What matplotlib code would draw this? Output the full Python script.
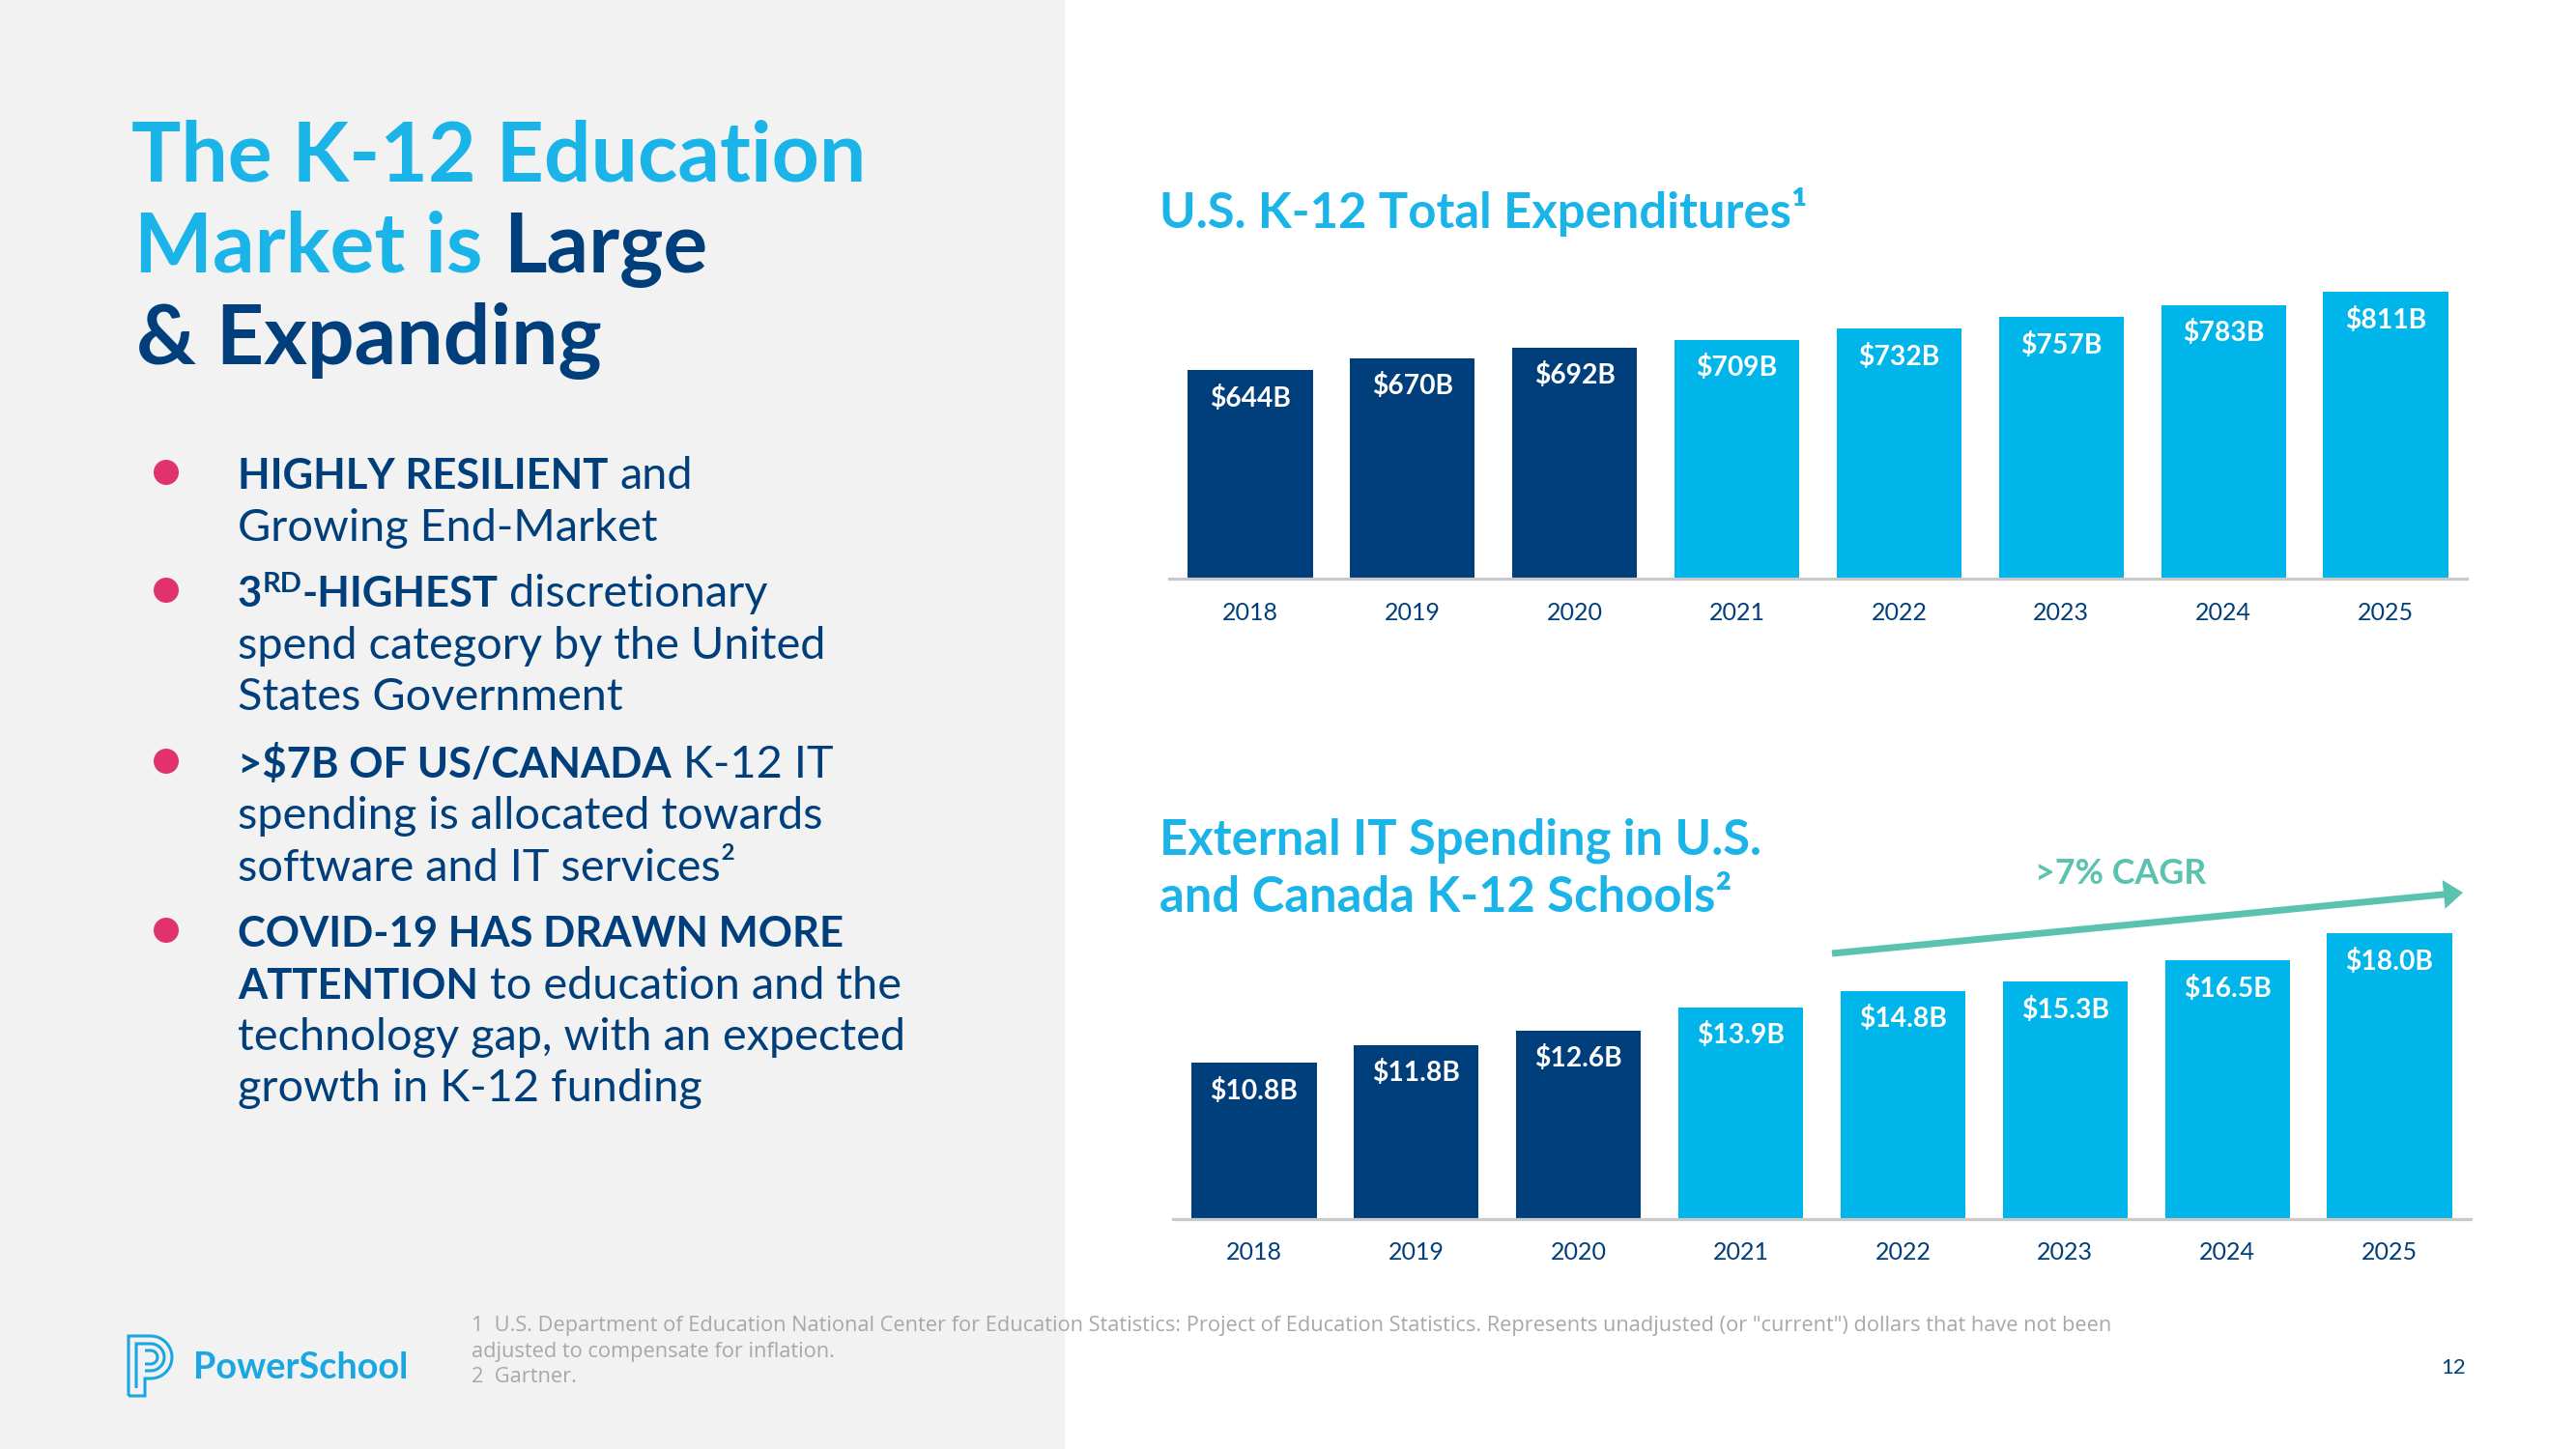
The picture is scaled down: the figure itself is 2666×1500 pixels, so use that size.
import matplotlib
matplotlib.use("Agg")
import matplotlib.pyplot as plt
from matplotlib.patches import Rectangle, Circle, FancyArrow, PathPatch
from matplotlib.path import Path
import numpy as np

# ---------------- data ----------------
years = ["2018", "2019", "2020", "2021", "2022", "2023", "2024", "2025"]
total_expenditures = [644, 670, 692, 709, 732, 757, 783, 811]
total_labels = ["$644B", "$670B", "$692B", "$709B", "$732B", "$757B", "$783B", "$811B"]
it_spending = [10.8, 11.8, 12.6, 13.9, 14.8, 15.3, 16.5, 18.0]
it_labels = ["$10.8B", "$11.8B", "$12.6B", "$13.9B", "$14.8B", "$15.3B", "$16.5B", "$18.0B"]
n_actual = 3  # first bars drawn in navy

title_lines = [
    [("The K-12 Education", "bold", "light")],
    [("Market is", "bold", "light"), (" Large", "bold", "navy")],
    [("& Expanding", "bold", "navy")],
]
bullets = [
    [[("HIGHLY RESILIENT", "bold"), (" and", "normal")],
     [("Growing End-Market", "normal")]],
    [[("3", "bold"), ("RD", "bold", "sup"), ("-HIGHEST", "bold"), (" discretionary", "normal")],
     [("spend category by the United", "normal")],
     [("States Government", "normal")]],
    [[(">$7B OF US/CANADA", "bold"), (" K-12 IT", "normal")],
     [("spending is allocated towards", "normal")],
     [("software and IT services\u00b2", "normal")]],
    [[("COVID-19 HAS DRAWN MORE", "bold")],
     [("ATTENTION", "bold"), (" to education and the", "normal")],
     [("technology gap, with an expected", "normal")],
     [("growth in K-12 funding", "normal")]],
]
footnotes = [
    "1  U.S. Department of Education National Center for Education Statistics: Project of Education Statistics. Represents unadjusted (or \"current\") dollars that have not been",
    "adjusted to compensate for inflation.",
    "2  Gartner.",
]

# ---------------- style ----------------
NAVY = "#003F7B"
LIGHT = "#00B5EA"
TITLE_BLUE = "#1BB4E8"
TEAL = "#5BC2B0"
PINK = "#E0336E"
GRAY_LINE = "#C9C9C9"
PANEL = "#F2F2F2"
FOOT = "#A8A8A8"
FONT = "Lato"
COLORS = {"navy": NAVY, "light": TITLE_BLUE}

W, H = 2666, 1500
fig = plt.figure(figsize=(W / 100, H / 100), dpi=100)
fig.patch.set_facecolor("white")
ov = fig.add_axes([0, 0, 1, 1], zorder=0)
ov.set_xlim(0, W)
ov.set_ylim(H, 0)
ov.axis("off")
ov.add_patch(Rectangle((0, 0), 1102, H, facecolor=PANEL, edgecolor="none"))
renderer = fig.canvas.get_renderer()


def width_of(t):
    return t.get_window_extent(renderer).width


def measure(txt, size, weight="normal", family=FONT):
    t = ov.text(0, 0, txt, fontsize=size, fontweight=weight, family=family)
    w = width_of(t)
    t.remove()
    return w


def fit_size(txt, target, weight="normal", family=FONT):
    return 30 * target / measure(txt, 30, weight, family)


def space_w(size, weight):
    return measure("n n", size, weight) - measure("nn", size, weight)


def draw_line(x, y, parts, size, default_color=NAVY, bold_scale=1.0):
    cx = x
    for p in parts:
        txt, weight = p[0], p[1]
        flag = p[2] if len(p) > 2 else None
        color = COLORS.get(flag, default_color)
        sup = flag == "sup"
        s = size * (bold_scale if weight == "bold" else 1.0)
        dy = size * 1.389 * 0.33 if sup else 0
        if sup:
            s = size * 0.62
        if txt.startswith(" "):
            cx += space_w(size, "normal")
            txt = txt.lstrip(" ")
        t = ov.text(cx, y - dy, txt, fontsize=s, fontweight=weight, color=color,
                    family=FONT, ha="left", va="baseline")
        cx += width_of(t)
    return cx


# ---------------- main title ----------------
ts = fit_size("The K-12 Education", 760, "bold")
for parts, (x, y) in zip(title_lines, [(136, 187), (139, 282), (141, 377)]):
    draw_line(x, y, parts, ts)

# ---------------- bullets ----------------
bs = fit_size("spending is allocated towards", 605, "normal")
line_gap = 53.5
first_baselines = [506, 628, 805, 980]
for blines, y0 in zip(bullets, first_baselines):
    ov.add_patch(Circle((172, y0 - 17), 13, facecolor=PINK, edgecolor="none"))
    for k, parts in enumerate(blines):
        draw_line(246, y0 + k * line_gap, parts, bs, bold_scale=0.93)

# ---------------- footnotes ----------------
fs = fit_size(footnotes[0], 1692, "normal", "Open Sans")
for k, line in enumerate(footnotes):
    ov.text(488, 1378 + k * 26.5, line, fontsize=fs, color=FOOT, family="Open Sans",
            ha="left", va="baseline")

# ---------------- logo ----------------
lw_logo = 2.2
LOGO = "#1AA7E1"
outer = Path([(133, 1445), (133, 1383), (156, 1383)] +
             [(156 + 22 * np.sin(a), 1405 - 22 * np.cos(a)) for a in np.linspace(0, np.pi, 20)][1:] +
             [(150, 1427), (150, 1445), (133, 1445)])
ov.add_patch(PathPatch(outer, facecolor="none", edgecolor=LOGO, lw=lw_logo))
inner = Path([(141, 1437), (141, 1391), (156, 1391)] +
             [(156 + 14 * np.sin(a), 1405 - 14 * np.cos(a)) for a in np.linspace(0, np.pi, 16)][1:] +
             [(150, 1419)])
ov.add_patch(PathPatch(inner, facecolor="none", edgecolor=LOGO, lw=lw_logo))
inner2 = Path([(150, 1398), (156, 1398)] +
              [(156 + 7 * np.sin(a), 1405 - 7 * np.cos(a)) for a in np.linspace(0, np.pi, 12)][1:] +
              [(150, 1412)])
ov.add_patch(PathPatch(inner2, facecolor="none", edgecolor=LOGO, lw=lw_logo))
ls = fit_size("PowerSchool", 222, "bold")
ov.text(200, 1427, "PowerSchool", fontsize=ls, fontweight="bold", color=LOGO,
        family=FONT, ha="left", va="baseline")

ov.text(2552, 1422, "12", fontsize=16, color=NAVY, family=FONT, ha="right", va="baseline")

# ---------------- chart titles ----------------
cts = fit_size("U.S. K-12 Total Expenditures\u00b9", 670, "bold")
ov.text(1200, 236, "U.S. K-12 Total Expenditures\u00b9", fontsize=cts, fontweight="bold",
        color=TITLE_BLUE, family=FONT, ha="left", va="baseline")
ov.text(1200, 884, "External IT Spending in U.S.", fontsize=cts, fontweight="bold",
        color=TITLE_BLUE, family=FONT, ha="left", va="baseline")
ov.text(1200, 944, "and Canada K-12 Schools\u00b2", fontsize=cts, fontweight="bold",
        color=TITLE_BLUE, family=FONT, ha="left", va="baseline")

# ---------------- bar charts ----------------
vs = fit_size("$644B", 84, "bold")
ys = fit_size("2018", 58, "normal")
bar_colors = [NAVY] * n_actual + [LIGHT] * (len(years) - n_actual)


def px_axes(x0, y0, x1, y1):
    return fig.add_axes([x0 / W, 1 - y1 / H, (x1 - x0) / W, (y1 - y0) / H], zorder=2)


def bar_chart(ax, values, labels, ylim):
    x = np.arange(len(values))
    ax.bar(x, values, width=0.77, color=bar_colors, zorder=2)
    ax.set_xlim(-0.5, len(values) - 0.5)
    ax.set_ylim(*ylim)
    ax.patch.set_alpha(0)
    for s in ["top", "left", "right"]:
        ax.spines[s].set_visible(False)
    ax.spines["bottom"].set_color(GRAY_LINE)
    ax.spines["bottom"].set_linewidth(2.3)
    ax.spines["bottom"].set_zorder(3)
    ax.set_yticks([])
    ax.set_xticks([])
    for i, (v, lab) in enumerate(zip(values, labels)):
        ax.annotate(lab, xy=(i, v), xytext=(0, -29 * 0.72), textcoords="offset points",
                    ha="center", va="center", color="white", fontsize=vs,
                    fontweight="bold", family=FONT, zorder=4)
        ax.annotate(years[i], xy=(i, 0), xycoords=("data", "axes fraction"),
                    xytext=(0, -35 * 0.72), textcoords="offset points",
                    ha="center", va="center", color=NAVY, fontsize=ys, family=FONT)


ax1 = px_axes(1210, 250, 2553, 599)
bar_chart(ax1, total_expenditures, total_labels, (199, 199 + 349 / 0.485))

ax2 = px_axes(1214, 880, 2557, 1262)
bar_chart(ax2, it_spending, it_labels, (2.14, 2.14 + 382 / 18.66))

# CAGR arrow and label
ov.add_patch(FancyArrow(1896, 987, 2549 - 1896, 924 - 987, width=7, head_width=30,
                        head_length=20, length_includes_head=True, color=TEAL, lw=0))
cs = fit_size(">7% CAGR", 177, "bold")
ov.text(2195, 915, ">7% CAGR", fontsize=cs, fontweight="bold", color=TEAL, family=FONT,
        ha="center", va="baseline")

fig.savefig("out.png", dpi=100, facecolor=fig.get_facecolor())
